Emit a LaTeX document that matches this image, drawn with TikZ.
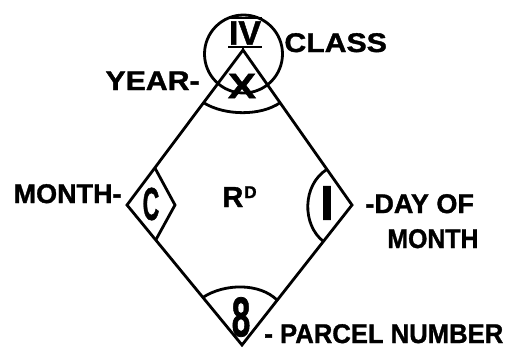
\documentclass[tikz,border=0pt]{standalone}
\usepackage{fontspec}
\setmainfont{Liberation Sans}[BoldFeatures={FakeBold=1.3}]
\usetikzlibrary{calc}
\newcommand{\narrowed}[2]{\scalebox{#1}[1]{#2}}

\begin{document}
\begin{tikzpicture}[x=1pt,y=-1pt,line width=2.8pt,
  lbl/.style={font=\bfseries\fontsize{27}{27}\selectfont,inner sep=0pt},
  regletter/.style={font=\bfseries\fontsize{#1}{#1}\selectfont,inner sep=0pt}]
  \useasboundingbox (0,0) rectangle (516,349);
  % corners of the parcel diamond
  \coordinate (top) at (243,50);
  \coordinate (west) at (127,205);
  \coordinate (east) at (352,205);
  \coordinate (south) at (242,345);
  \draw (top) -- (west) -- (south) -- (east) -- cycle;
  % class ring on top
  \node[circle,draw,minimum size=78pt,inner sep=0pt] (ring) at (243.5,54) {};
  \draw (228,18) -- (262,18);
  \draw (228,47) -- (262,47);
  \draw (243,47) -- (top);
  \node[regletter=34] (cls) at (245,33) {IV};
  % year field
  \draw ($(top)!0.34!(west)$) .. controls (225,116) and (261,116) .. ($(top)!0.34!(east)$);
  \node[regletter=35] (yr) at (242,86) {\narrowed{1.2}{X}};
  % month field
  \draw ($(west)!0.24!(top)$) -- (175,205) -- ($(west)!0.25!(south)$);
  \node[regletter=46] (mon) at (151,204) {\narrowed{0.5}{C}};
  % day field
  \draw ($(east)!0.23!(top)$) .. controls (302,185) and (302,225) .. ($(east)!0.26!(south)$);
  \node[regletter=49] (day) at (327,203) {I};
  % parcel field
  \draw ($(west)!0.66!(south)$) .. controls (225,283) and (260,283) .. ($(east)!0.68!(south)$);
  \node[regletter=56] (parcel) at (241,317) {\narrowed{0.6}{8}};
  \node[font=\bfseries\fontsize{29}{29}\selectfont,inner sep=0pt,anchor=base west] (rd)
    at (221,207) {R\hspace{1pt}\raisebox{9pt}{\fontsize{17}{17}\selectfont D}};
  % labels
  \node[lbl,anchor=base east] (yearlbl) at (201,90) {\narrowed{1.12}{YEAR-}};
  \node[lbl,anchor=base west] (classlbl) at (283,52) {\narrowed{1.12}{CLASS}};
  \node[lbl,anchor=base east] (monthlbl) at (123,203) {MONTH-};
  \node[lbl,anchor=base west] (daylbl) at (364,213) {-DAY OF};
  \node[lbl,anchor=base west] (dommonth) at (386,248) {\narrowed{0.92}{MONTH}};
  \node[lbl,anchor=base west] (parcellbl) at (263,343) {\narrowed{0.95}{- PARCEL NUMBER}};
\end{tikzpicture}
\end{document}
